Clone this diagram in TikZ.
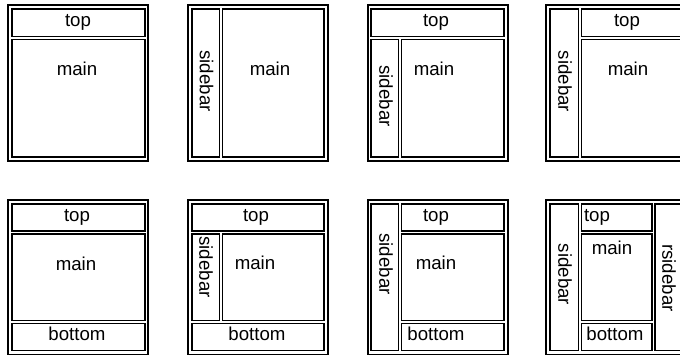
\documentclass[tikz,border=0pt]{standalone}
\usepackage{fontspec}
\setmainfont{Liberation Sans}
\begin{document}
\begin{tikzpicture}[x=0.75pt,y=-0.75pt,
  frame/.style={draw=black,line width=1.1pt},
  cell/.style={draw=black,line width=0.85pt},
  lbl/.style={inner sep=0pt,font=\fontsize{14}{16}\selectfont},
  vlbl/.style={lbl,rotate=-90}]
\useasboundingbox (0,0) rectangle (680,356);
\clip (0,0) rectangle (680,356);
% ---------- row 1 ----------
% panel 1
\draw[frame] (8,5) rectangle (148,161);
\draw[cell] (12,9) rectangle (145,36.8);
\draw[cell] (12,39.8) rectangle (145,157);
\node[lbl] (a1top) at (78,22) {top};
\node[lbl] (a1main) at (77,69) {main};
% panel 2
\draw[frame] (188,5) rectangle (328,161);
\draw[cell] (192,9) rectangle (219.7,157);
\draw[cell] (222.7,9) rectangle (324,157);
\node[vlbl] (a2side) at (206.5,81) {sidebar};
\node[lbl] (a2main) at (270,69) {main};
% panel 3
\draw[frame] (368,5) rectangle (508,161);
\draw[cell] (371,9) rectangle (504,36.8);
\draw[cell] (371,39.8) rectangle (398.7,157);
\draw[cell] (401.7,39.8) rectangle (504,157);
\node[lbl] (a3top) at (436,22) {top};
\node[vlbl] (a3side) at (386,96) {sidebar};
\node[lbl] (a3main) at (434,69) {main};
% panel 4
\draw[frame] (546,5) rectangle (686,161);
\draw[cell] (550,9) rectangle (578.2,157);
\draw[cell] (581.2,9) rectangle (683,36.8);
\draw[cell] (581.2,39.8) rectangle (683,157);
\node[vlbl] (a4side) at (565,81.5) {sidebar};
\node[lbl] (a4top) at (627,22) {top};
\node[lbl] (a4main) at (628,69) {main};
% ---------- row 2 ----------
% panel 1
\draw[frame] (8,200) rectangle (148,354.5);
\draw[cell] (12,204) rectangle (145,231);
\draw[cell] (12,234) rectangle (145,320.8);
\draw[cell] (12,323.8) rectangle (145,350.5);
\node[lbl] (b1top) at (77,217) {top};
\node[lbl] (b1main) at (76,264) {main};
\node[lbl] (b1bot) at (77,334) {bottom};
% panel 2
\draw[frame] (188,200) rectangle (328,354.5);
\draw[cell] (192,204) rectangle (324,231);
\draw[cell] (192,234) rectangle (219.7,320.8);
\draw[cell] (222.7,234) rectangle (324,320.8);
\draw[cell] (192,323.8) rectangle (324,350.5);
\node[lbl] (b2top) at (256,217) {top};
\node[vlbl] (b2side) at (206,267) {sidebar};
\node[lbl] (b2main) at (255,263) {main};
\node[lbl] (b2bot) at (257,334) {bottom};
% panel 3
\draw[frame] (368,200) rectangle (508,354.5);
\draw[cell] (371,204) rectangle (398.7,350.5);
\draw[cell] (401.7,204) rectangle (504,231);
\draw[cell] (401.7,234) rectangle (504,320.8);
\draw[cell] (401.7,323.8) rectangle (504,350.5);
\node[vlbl] (b3side) at (386,264) {sidebar};
\node[lbl] (b3top) at (436,217) {top};
\node[lbl] (b3main) at (436,263) {main};
\node[lbl] (b3bot) at (436,334) {bottom};
% panel 4
\draw[frame] (546,200) rectangle (686,354.5);
\draw[cell] (550,204) rectangle (578.2,350.5);
\draw[cell] (581.2,204) rectangle (652,231);
\draw[cell] (581.2,234) rectangle (652,320.8);
\draw[cell] (581.2,323.8) rectangle (652,350.5);
\draw[cell] (655,204) rectangle (683,350.5);
\node[vlbl] (b4side) at (565,274.5) {sidebar};
\node[lbl] (b4top) at (597,217) {top};
\node[lbl] (b4main) at (612,248) {main};
\node[lbl] (b4bot) at (615,334) {bottom};
\node[vlbl] (b4rside) at (669,278) {rsidebar};
\end{tikzpicture}
\end{document}
